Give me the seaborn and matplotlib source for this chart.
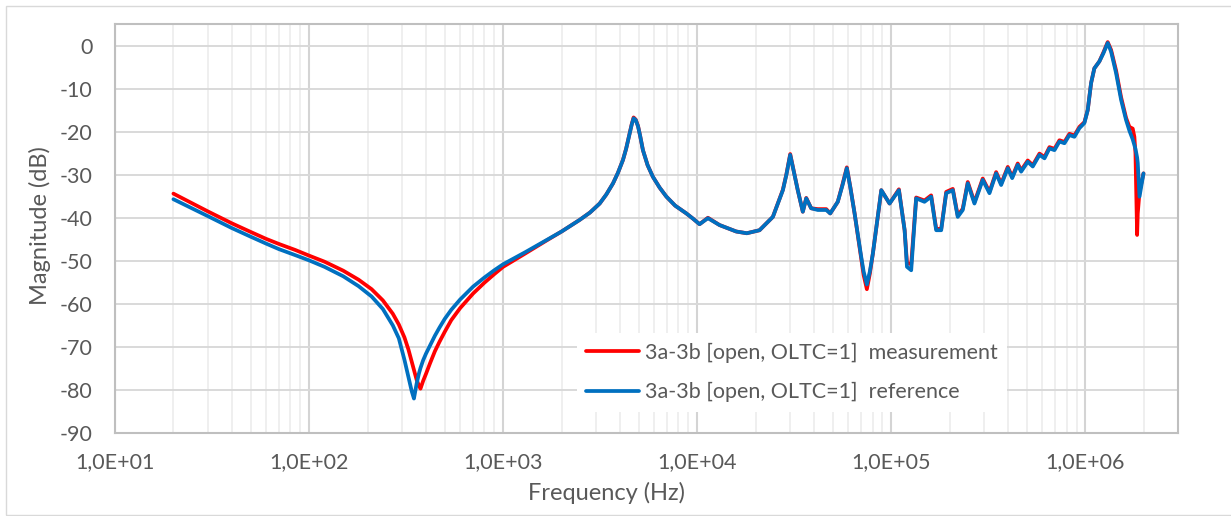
import numpy as np
import pandas as pd
import matplotlib
matplotlib.use("Agg")
import matplotlib.pyplot as plt
import seaborn as sns
from matplotlib.ticker import FixedLocator, FuncFormatter, LogLocator, NullFormatter
from matplotlib.patches import Rectangle

# ---------------- data ----------------
freq_hz = [
    20, 30, 40, 50, 60, 70, 85, 100, 120, 150,
    180, 210, 240, 270, 290, 310, 325, 338, 347, 358,
    368, 375, 387, 400, 420, 445, 470, 500, 540, 600,
    700, 800, 900, 1000, 1300, 1671, 2000, 2479, 2800, 3143,
    3400, 3683, 3900, 4141, 4300, 4486, 4600, 4700, 4820, 4955,
    5080, 5250, 5550, 5910, 6400, 6935, 7700, 8790, 9500, 10280,
    11350, 13030, 15890, 18000, 20940, 24530, 27620, 28800, 30130, 31500,
    32960, 34990, 36450, 38640, 41800, 46220, 48440, 52980, 56000, 58990,
    61500, 64680, 69980, 72000, 74820, 77500, 80350, 88790, 97930, 109400,
    117100, 120400, 126600, 134300, 148200, 160400, 170300, 180700, 191800, 207400,
    219900, 233400, 247700, 268100, 295800, 320400, 346800, 368000, 398200, 419500,
    448100, 466500, 504700, 535500, 579900, 615400, 652900, 692800, 735000, 779900,
    827400, 877900, 931400, 988200, 1028000, 1070000, 1112000, 1180000, 1238000, 1303000,
    1356000, 1439000, 1527000, 1620000, 1686000, 1753000, 1788000, 1811000, 1847000, 1861000,
    1900000, 1992000,
]

mag_measurement = [
    -34.4, -38.5, -41.3, -43.3, -44.9, -46.1, -47.5, -48.8, -50.2, -52.3,
    -54.4, -56.6, -59.2, -62.3, -64.8, -67.8, -70.6, -73.4, -75.3, -77.6,
    -79.0, -79.7, -77.9, -76.3, -73.8, -71.0, -68.8, -66.5, -63.8, -61.0,
    -57.6, -55.1, -53.1, -51.4, -48.3, -45.3, -43.2, -40.5, -38.8, -36.7,
    -34.6, -32.0, -29.6, -26.6, -24.0, -20.3, -18.2, -16.7, -17.2, -18.7,
    -21.0, -24.3, -27.8, -30.5, -33.0, -35.1, -37.2, -39.0, -40.2, -41.5,
    -40.0, -41.7, -43.2, -43.6, -42.9, -39.8, -33.5, -29.9, -25.2, -29.4,
    -33.6, -38.6, -35.4, -37.8, -38.0, -38.0, -39.0, -36.3, -32.3, -28.3,
    -32.9, -39.0, -49.5, -53.3, -56.6, -53.0, -48.3, -33.6, -36.7, -33.4,
    -42.9, -50.5, -50.8, -35.3, -36.0, -34.8, -42.6, -42.6, -34.0, -33.3,
    -39.5, -37.9, -31.7, -36.4, -30.9, -34.0, -29.4, -32.1, -28.2, -30.5,
    -27.4, -29.0, -26.7, -27.8, -25.1, -25.9, -23.6, -24.0, -22.0, -22.4,
    -20.5, -20.9, -18.9, -17.8, -15.0, -8.7, -5.3, -3.7, -1.6, 0.8,
    -1.0, -5.8, -12.0, -16.8, -18.9, -19.3, -21.2, -25.0, -44.0, -39.0,
    -34.0, -29.7,
]

mag_reference = [
    -35.7, -39.6, -42.4, -44.4, -46.0, -47.3, -48.7, -49.9, -51.4, -53.6,
    -55.9, -58.3, -61.2, -65.0, -68.0, -73.0, -77.0, -80.3, -82.0, -78.6,
    -76.2, -74.9, -73.1, -71.6, -69.7, -67.4, -65.5, -63.5, -61.4, -59.0,
    -56.0, -53.9, -52.2, -50.8, -48.0, -45.2, -43.2, -40.5, -38.8, -36.7,
    -34.6, -32.0, -29.6, -26.6, -24.0, -20.4, -18.3, -16.9, -17.3, -18.8,
    -21.0, -24.3, -27.8, -30.5, -33.0, -35.1, -37.2, -39.0, -40.2, -41.5,
    -40.1, -41.7, -43.2, -43.6, -42.9, -39.8, -33.6, -30.0, -25.4, -29.5,
    -33.6, -38.6, -35.5, -37.8, -38.2, -38.2, -39.0, -36.3, -32.5, -28.5,
    -33.0, -39.0, -49.1, -52.5, -55.5, -52.5, -48.3, -33.6, -36.7, -33.6,
    -42.9, -51.4, -52.2, -35.5, -36.3, -35.1, -42.9, -42.9, -34.3, -33.6,
    -39.8, -38.2, -32.0, -36.7, -31.2, -34.3, -29.7, -32.4, -28.5, -30.8,
    -27.7, -29.3, -27.0, -28.1, -25.4, -26.2, -23.9, -24.3, -22.3, -22.7,
    -20.8, -21.2, -19.2, -18.0, -15.0, -8.7, -5.3, -3.7, -1.8, 0.6,
    -1.4, -6.4, -12.6, -17.3, -19.8, -21.8, -23.1, -24.0, -26.0, -27.3,
    -35.1, -29.7,
]

series_labels = [
    "3a-3b [open, OLTC=1]  measurement",
    "3a-3b [open, OLTC=1]  reference",
]
x_tick_values = [1e1, 1e2, 1e3, 1e4, 1e5, 1e6]
y_tick_values = [-90, -80, -70, -60, -50, -40, -30, -20, -10, 0]
x_label = "Frequency (Hz)"
y_label = "Magnitude (dB)"

# ---------------- build frame ----------------
df = pd.concat([
    pd.DataFrame({"Frequency": freq_hz, "Magnitude": mag_measurement,
                  "Series": series_labels[0]}),
    pd.DataFrame({"Frequency": freq_hz, "Magnitude": mag_reference,
                  "Series": series_labels[1]}),
], ignore_index=True)

# ---------------- style ----------------
sns.set_theme(style="white")
plt.rcParams["font.family"] = ["Lato", "DejaVu Sans"]
plt.rcParams["axes.unicode_minus"] = False
TEXT = "#595959"
RED = "#FF0000"
BLUE = "#0070C0"

W, H = 1231, 516
fig = plt.figure(figsize=(W / 100, H / 100), dpi=100)
fig.patch.set_facecolor("white")
L, R, T, B = 115, 1178, 24, 433
ax = fig.add_axes([L / W, 1 - B / H, (R - L) / W, (B - T) / H])

sns.lineplot(data=df, x="Frequency", y="Magnitude", hue="Series",
             hue_order=series_labels, palette=[RED, BLUE],
             linewidth=2.7, estimator=None, sort=False, ax=ax,
             solid_joinstyle="round", solid_capstyle="round")

ax.set_xscale("log")
ax.set_xlim(10, 3e6)
ax.set_ylim(-90, 5)
ax.xaxis.set_major_locator(FixedLocator(x_tick_values))
ax.xaxis.set_major_formatter(FuncFormatter(
    lambda v, p: "1,0E+%02d" % int(round(np.log10(v)))))
ax.xaxis.set_minor_locator(LogLocator(base=10, subs=range(2, 10), numticks=100))
ax.xaxis.set_minor_formatter(NullFormatter())
ax.set_yticks(y_tick_values)

ax.set_axisbelow(True)
ax.grid(which="major", axis="y", color="#D9D9D9", lw=1.4)
ax.grid(which="major", axis="x", color="#D4D4D4", lw=1.5)
ax.grid(which="minor", axis="x", color="#EEEEEE", lw=1.3)

for s in ax.spines.values():
    s.set_visible(True)
    s.set_color("#BFBFBF")
    s.set_linewidth(1.5)

ax.tick_params(axis="both", which="both", length=0, labelsize=15.5, colors=TEXT)
ax.tick_params(axis="y", pad=16)
ax.tick_params(axis="x", pad=13.5)

ax.set_xlabel(x_label, fontsize=17, color=TEXT)
ax.set_ylabel(y_label, fontsize=17, color=TEXT)
ax.xaxis.label.set_va("center")
ax.yaxis.label.set_va("center")
ax.xaxis.set_label_coords((606 - L) / (R - L), (B - 493) / (B - T))
ax.yaxis.set_label_coords((40 - L) / (R - L), (B - 226) / (B - T))

leg = ax.legend(loc="upper left", bbox_to_anchor=(566 / W, 1 - 322 / H),
                bbox_transform=fig.transFigure, frameon=True, fancybox=False,
                edgecolor="none", facecolor="white", framealpha=1,
                fontsize=15.5, handlelength=2.45, handletextpad=0.25,
                labelspacing=0.9, borderpad=0.45, title=None)
for line in leg.get_lines():
    line.set_linewidth(2.7)
for t in leg.get_texts():
    t.set_color(TEXT)

fig.patches.append(Rectangle((6 / W, 0.6 / H), 1.2, (515.4 - 5.7) / H,
                             transform=fig.transFigure, fill=False,
                             edgecolor="#D9D9D9", lw=1.0))

fig.savefig("out.png", dpi=100)
